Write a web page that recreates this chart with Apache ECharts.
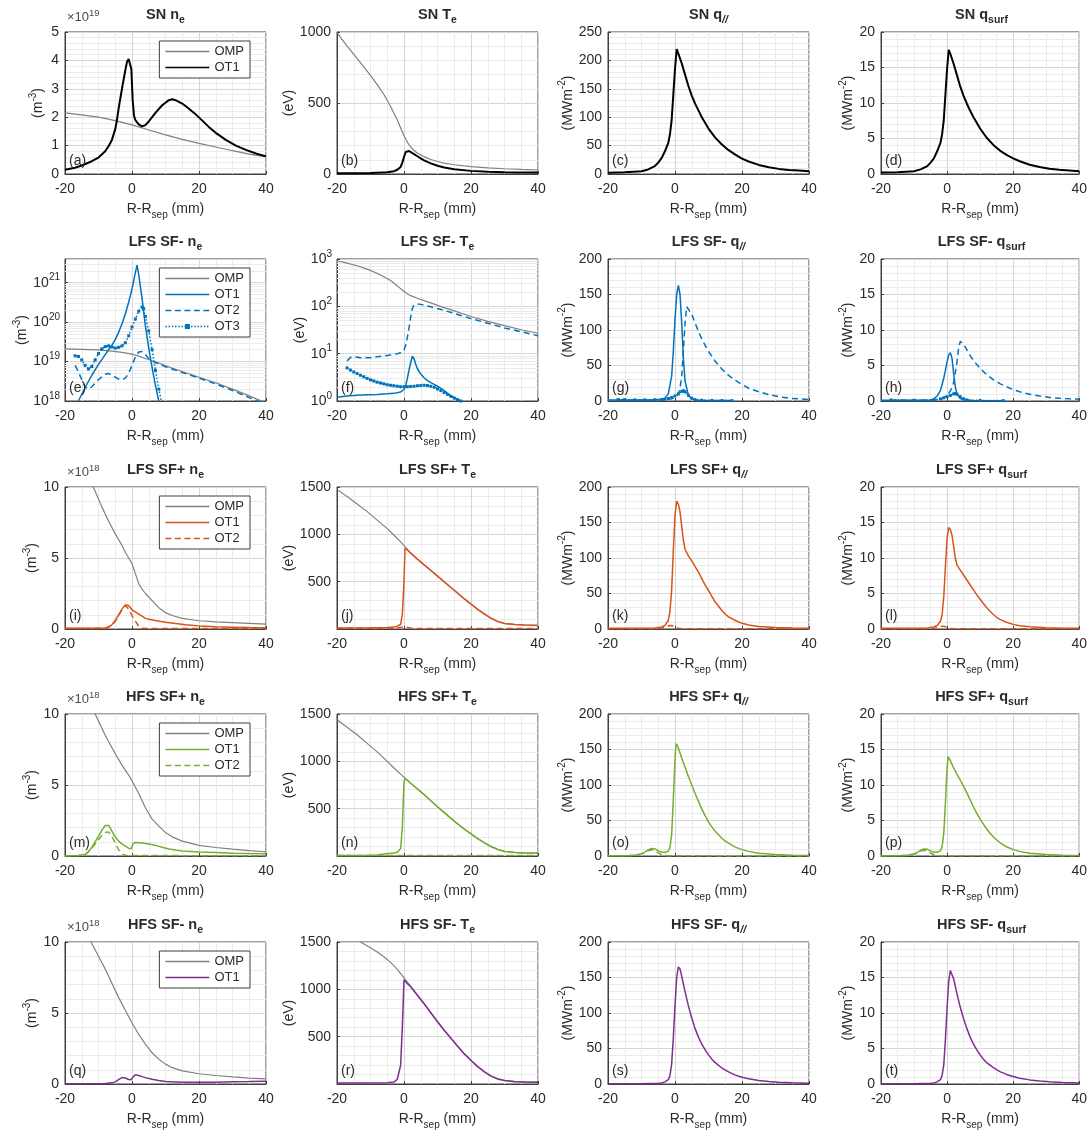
<!DOCTYPE html>
<html>
<head>
<meta charset="utf-8">
<script src="https://cdn.jsdelivr.net/npm/echarts@6/dist/echarts.min.js"></script>
<style>
html,body{margin:0;padding:0;background:#fff}
#chart{width:1090px;height:1135px}
</style>
</head>
<body>
<div id="chart"></div>
<script>
// ---------- profiles: [R-Rsep (mm), value] ----------
// SN
const snNeOMP = [[-20,2.15],[-15,2.08],[-10,2.0],[-5,1.88],[0,1.73],[5,1.55],[10,1.38],[15,1.22],[20,1.08],[25,0.95],[30,0.82],[35,0.7],[40,0.6]];
const snNeOT1 = [[-20,0.15],[-17,0.22],[-15,0.3],[-12,0.45],[-10,0.58],[-8,0.8],[-7,0.98],[-6,1.2],[-5,1.58],[-4.5,1.9],[-4,2.3],[-3,3.0],[-2,3.65],[-1.5,3.95],[-1,4.05],[-0.5,4.05],[-0.2,3.7],[0.2,2.6],[0.6,2.05],[1,1.9],[2,1.75],[3,1.68],[4,1.72],[5,1.85],[7,2.15],[9,2.42],[11,2.6],[12,2.63],[13,2.6],[15,2.48],[17,2.3],[19,2.1],[21,1.88],[23,1.65],[25,1.45],[28,1.2],[31,1.0],[34,0.85],[37,0.72],[40,0.62]];
const snTeOMP = [[-20,995],[-17,900],[-14,815],[-12,755],[-10,695],[-8,630],[-6,560],[-4,475],[-2,380],[0,270],[1,225],[2,190],[3,165],[4,148],[6,122],[8,102],[10,88],[12,77],[15,65],[20,52],[25,43],[30,37],[35,32],[40,28]];
const snTeOT1 = [[-20,5],[-10,7],[-5,12],[-3,20],[-2,30],[-1,50],[-0.5,80],[0,120],[0.5,155],[1,165],[1.5,162],[2,155],[3,140],[4,125],[5,110],[6,96],[8,75],[10,58],[12,46],[15,34],[20,22],[25,16],[30,13],[35,11],[40,10]];
const snQparOT1 = [[-20,2],[-15,3],[-10,5],[-8,8],[-6,14],[-5,20],[-4,28],[-3,40],[-2,55],[-1.5,70],[-1,95],[-0.5,140],[0,185],[0.5,220],[1,212],[2,195],[3,175],[4,155],[5,138],[6,124],[7,112],[8,100],[10,80],[12,64],[14,52],[16,42],[18,34],[20,27],[22,22],[25,16],[28,12],[31,9],[34,7],[37,6],[40,5]];
const snQsurfOT1 = [[-20,0.2],[-15,0.25],[-10,0.4],[-8,0.65],[-6,1.1],[-5,1.6],[-4,2.2],[-3,3.2],[-2,4.4],[-1.5,5.6],[-1,7.6],[-0.5,11.2],[0,14.8],[0.5,17.5],[1,16.9],[2,15.5],[3,13.9],[4,12.3],[5,11.0],[6,9.9],[7,8.9],[8,8.0],[10,6.4],[12,5.1],[14,4.1],[16,3.3],[18,2.7],[20,2.2],[22,1.8],[25,1.3],[28,1.0],[31,0.75],[34,0.6],[37,0.5],[40,0.4]];

// LFS SF-
const lmNeOMP = [[-20,2.1e19],[-15,2.05e19],[-10,1.97e19],[-6,1.85e19],[-3,1.72e19],[0,1.55e19],[2,1.38e19],[4,1.2e19],[6,1.05e19],[8,9.2e18],[10,7.8e18],[15,5.6e18],[20,4e18],[25,2.9e18],[30,2.0e18],[35,1.35e18],[38,1.05e18],[40,0.88e18]];
const lmNeOT1 = [[-20,2e17],[-18,5e17],[-16,1e18],[-14,2.2e18],[-12,4.5e18],[-10,8.5e18],[-8,1.5e19],[-7,2e19],[-6,2.6e19],[-5,3.6e19],[-4,5.5e19],[-3,9e19],[-2,1.6e20],[-1,3.2e20],[0,7e20],[1,1.8e21],[1.5,2.8e21],[2,1.6e21],[3,4e20],[4,8e19],[5,2.2e19],[6,7e18],[7,2.5e18],[8,1e18],[9,4e17]];
const lmNeOT2 = [[-17,8e18],[-16,5.5e18],[-15,3.5e18],[-14,2.3e18],[-13,2e18],[-12,2.3e18],[-10,3.5e18],[-8,4.8e18],[-7,5e18],[-6,4.5e18],[-4,3.6e18],[-3,3.4e18],[-2,3.8e18],[-1,5e18],[0,8e18],[1,1.3e19],[2,1.75e19],[3,1.8e19],[4,1.5e19],[5,1.2e19],[6,1.02e19],[8,8.8e18],[10,7.4e18],[15,5.3e18],[20,3.8e18],[25,2.7e18],[30,1.85e18],[35,1.22e18],[38,0.95e18],[40,0.8e18]];
const lmNeOT3 = [[-17,1.4e19],[-16,1.35e19],[-15,1.1e19],[-14,8e18],[-13,6.5e18],[-12,7.5e18],[-11,1.1e19],[-10,1.6e19],[-9,2.1e19],[-8,2.4e19],[-7,2.5e19],[-6,2.35e19],[-5,2.2e19],[-4,2.3e19],[-3,2.5e19],[-2,3e19],[-1,4.5e19],[0,7.5e19],[1,1.2e20],[2,1.9e20],[3,2.4e20],[3.5,2.2e20],[4,1.4e20],[5,6e19],[6,2e19],[7,6e18],[8,2e18],[9,8e17]];
const lmTeOMP = [[-20,920],[-17,820],[-14,720],[-11,610],[-8,500],[-6,420],[-4,350],[-2,270],[0,205],[1,185],[2,168],[4,148],[6,132],[8,118],[10,105],[12,94],[15,80],[18,68],[20,61],[25,48],[30,39],[35,32],[40,27]];
const lmTeOT1 = [[-20,1.2],[-17,1.28],[-14,1.33],[-11,1.36],[-8,1.38],[-5,1.42],[-3,1.45],[-1,1.55],[0,1.75],[0.5,2.1],[1,3],[1.5,4.5],[2,6.5],[2.5,8.8],[3,7.8],[3.5,6],[4,4.8],[5,3.7],[6,3.1],[7,2.7],[8,2.45],[9,2.25],[10,2.05],[11,1.85],[12,1.65],[13,1.45],[14,1.3],[15,1.18],[16,1.08],[17,1.0],[18,0.92]];
const lmTeOT2 = [[-17,7],[-16,8.3],[-15,8.6],[-13,8.2],[-10,8.2],[-8,8.6],[-6,9],[-4,9.4],[-2,10],[-1,10.5],[0,12],[0.5,15],[1,22],[1.5,35],[2,60],[2.5,90],[3,108],[4,112],[5,110],[6,106],[8,98],[10,90],[12,82],[15,71],[18,61],[20,55],[25,44],[30,35],[35,29],[40,24]];
const lmTeOT3 = [[-17,5],[-16,4.5],[-15,4.1],[-14,3.8],[-13,3.5],[-12,3.25],[-11,3.0],[-10,2.8],[-9,2.65],[-8,2.5],[-7,2.4],[-6,2.3],[-5,2.2],[-4,2.15],[-3,2.1],[-2,2.05],[-1,2.0],[0,2.0],[1,2.0],[2,2.02],[3,2.05],[4,2.1],[5,2.12],[6,2.15],[7,2.12],[8,2.05],[9,1.95],[10,1.8],[11,1.65],[12,1.5],[13,1.38],[14,1.25],[15,1.15],[16,1.07],[17,1.0]];
const lmQparOT1 = [[-20,1.5],[-15,1.5],[-10,1.5],[-6,1.8],[-4,2.5],[-3,4],[-2,10],[-1,35],[-0.5,70],[0,115],[0.5,150],[1,163],[1.5,150],[2,110],[2.5,60],[3,28],[4,8],[5,3],[6,1.5],[8,1],[12,0.8],[17,0.6]];
const lmQparOT2 = [[-17,1],[-10,1],[-4,1.5],[-2,2],[-1,3],[0,5],[1,10],[1.5,18],[2,35],[2.5,70],[3,110],[3.5,133],[4,131],[5,122],[6,110],[7,98],[8,87],[10,70],[12,56],[14,45],[16,36],[18,29],[20,23],[22,18],[25,13],[28,9],[31,6],[34,4],[37,3],[40,2]];
const lmQparOT3 = [[-17,2],[-15,2],[-12,1.5],[-9,1.5],[-6,1.8],[-4,2],[-3,2.5],[-2,3.5],[-1,5],[0,7],[1,10],[2,13.5],[2.5,14.5],[3,13],[4,8],[5,4],[6,2],[8,1],[11,0.8],[14,0.6],[17,0.5]];
const lmQsurfOT1 = [[-20,0.1],[-10,0.1],[-5,0.15],[-4,0.3],[-3,0.7],[-2,1.5],[-1,3.2],[0,5.5],[0.5,6.5],[1,6.8],[1.5,6],[2,3.8],[2.5,2],[3,1],[4,0.35],[5,0.15],[8,0.08],[17,0.05]];
const lmQsurfOT2 = [[-17,0.1],[-5,0.1],[-2,0.2],[-1,0.4],[0,0.8],[1,1.4],[2,2.6],[3,5.5],[3.5,7.5],[4,8.4],[5,8],[6,7.2],[7,6.4],[8,5.7],[10,4.6],[12,3.7],[14,3.0],[16,2.45],[18,2.0],[20,1.6],[22,1.3],[25,0.95],[28,0.7],[31,0.5],[34,0.38],[37,0.3],[40,0.25]];
const lmQsurfOT3 = [[-17,0.15],[-10,0.1],[-4,0.15],[-2,0.3],[-1,0.45],[0,0.6],[1,0.8],[2,1.0],[2.5,1.05],[3,0.95],[4,0.6],[5,0.3],[6,0.15],[10,0.08],[17,0.05]];

// LFS SF+
const lpNeOMP = [[-20,13.5],[-16,12],[-13,10.6],[-12,10.2],[-11,9.7],[-9,8.6],[-7,7.6],[-5,6.7],[-3,5.9],[-2,5.4],[-1,5.0],[0,4.6],[1,3.9],[2,3.2],[3,2.8],[4,2.5],[6,2.0],[8,1.5],[10,1.15],[12,0.95],[15,0.75],[20,0.58],[25,0.5],[30,0.45],[35,0.4],[40,0.35]];
const lpNeOT1 = [[-20,0.05],[-10,0.05],[-8,0.07],[-7,0.12],[-6,0.3],[-5,0.6],[-4,1.0],[-3,1.4],[-2,1.7],[-1.5,1.8],[-1,1.65],[0,1.35],[1,1.2],[2,1.05],[3,0.9],[4,0.75],[5,0.68],[7,0.6],[10,0.48],[13,0.38],[16,0.3],[20,0.22],[25,0.16],[30,0.13],[35,0.1],[40,0.08]];
const lpNeOT2 = [[-20,0.03],[-8,0.05],[-6,0.25],[-5,0.55],[-4,0.95],[-3,1.35],[-2,1.65],[-1.5,1.6],[-1,1.4],[0,0.95],[1,0.55],[2,0.2],[3,0.05],[5,0.03],[40,0.03]];
const lpTeOMP = [[-20,1475],[-17,1400],[-14,1320],[-11,1240],[-8,1150],[-5,1060],[-3,990],[-1,920],[0,880],[2,805],[4,740],[6,680],[8,620],[10,560],[12,500],[14,440],[16,380],[18,320],[20,265],[22,210],[24,160],[26,115],[28,80],[30,60],[33,48],[36,42],[40,38]];
const lpTeOT1 = [[-20,10],[-10,12],[-5,15],[-3,20],[-2,30],[-1,50],[-0.5,150],[0,500],[0.3,850],[1,835],[2,800],[4,738],[6,678],[8,618],[10,558],[12,498],[14,438],[16,378],[18,318],[20,262],[22,207],[24,157],[26,112],[28,78],[30,58],[33,47],[36,41],[40,37]];
const lpTeOT2 = [[-20,8],[-5,8],[-2,10],[0,25],[2,10],[4,5],[10,5],[40,5]];
const lpQparOT1 = [[-20,1],[-10,1],[-6,1.5],[-4,3],[-3,5],[-2,12],[-1.5,25],[-1,55],[-0.5,110],[0,160],[0.5,180],[1,176],[1.5,165],[2,145],[2.5,125],[3,112],[4,103],[5,96],[6,88],[7,80],[8,71],[9,62],[10,54],[11,46],[12,38],[13,32],[14,26],[15,21],[16,17],[18,12],[20,8],[22,5.5],[25,3.5],[30,2],[35,1.3],[40,1]];
const lpQparOT2 = [[-20,0.5],[-6,0.5],[-4,1.5],[-3,3],[-2,4.5],[-1,5],[0,3],[1,1],[2,0.5],[40,0.3]];
const lpQsurfOT1 = [[-20,0.1],[-10,0.1],[-6,0.15],[-4,0.3],[-3,0.5],[-2,1.1],[-1.5,2],[-1,4.5],[-0.5,8.8],[0,12.8],[0.5,14.3],[1,14],[1.5,13.2],[2,11.6],[2.5,10],[3,9],[4,8.3],[5,7.6],[6,6.9],[7,6.2],[8,5.5],[9,4.8],[10,4.2],[11,3.6],[12,3.0],[13,2.5],[14,2.05],[15,1.65],[16,1.35],[18,0.95],[20,0.65],[22,0.45],[25,0.3],[30,0.17],[35,0.12],[40,0.1]];
const lpQsurfOT2 = [[-20,0.05],[-5,0.05],[-3,0.2],[-2,0.35],[-1,0.4],[0,0.25],[1,0.08],[2,0.04],[40,0.03]];

// HFS SF+
const hpNeOMP = [[-20,13.5],[-16,12],[-13,10.8],[-12,10.4],[-11,10.0],[-8,8.5],[-5,7.2],[-3,6.4],[-1,5.7],[0,5.3],[2,4.4],[4,3.4],[6,2.6],[8,2.1],[10,1.65],[12,1.35],[15,1.05],[20,0.75],[25,0.6],[30,0.48],[35,0.38],[40,0.3]];
const hpNeOT1 = [[-20,0.02],[-16,0.03],[-14,0.1],[-13,0.3],[-12,0.6],[-11,1.0],[-10,1.4],[-9,1.8],[-8,2.15],[-7.5,2.25],[-7,2.15],[-6,1.75],[-5,1.35],[-4,1.05],[-3,0.85],[-2,0.7],[-1,0.55],[-0.3,0.5],[0.3,0.85],[1,0.95],[3,0.92],[5,0.85],[7,0.75],[9,0.62],[11,0.5],[13,0.42],[15,0.36],[20,0.28],[25,0.24],[30,0.2],[35,0.17],[40,0.15]];
const hpNeOT2 = [[-20,0.02],[-15,0.03],[-14,0.1],[-13,0.3],[-12,0.55],[-11,0.85],[-10,1.15],[-9,1.45],[-8,1.65],[-7,1.7],[-6,1.4],[-5,0.9],[-4,0.45],[-3,0.15],[-2,0.05],[0,0.03],[40,0.02]];
const hpTeOMP = [[-20,1440],[-17,1360],[-14,1280],[-11,1190],[-8,1100],[-5,1000],[-3,930],[-1,865],[0,830],[2,770],[4,710],[6,650],[8,585],[10,520],[12,460],[14,400],[16,340],[18,285],[20,235],[22,185],[24,140],[26,100],[28,70],[30,50],[33,38],[36,33],[40,30]];
const hpTeOT1 = [[-20,5],[-12,5],[-8,10],[-6,22],[-4,28],[-3,32],[-2,40],[-1,80],[-0.5,300],[0,780],[0.3,820],[1,800],[2,768],[4,708],[6,648],[8,583],[10,518],[12,458],[14,398],[16,338],[18,283],[20,233],[22,183],[24,138],[26,98],[28,68],[30,48],[33,36],[36,31],[40,28]];
const hpTeOT2 = [[-20,4],[-2,4],[-1,6],[0,8],[1,5],[40,4]];
const hpQparOT1 = [[-20,0.3],[-14,0.5],[-12,1],[-10,3],[-9,5.5],[-8,8.5],[-7,10.5],[-6.5,10.8],[-6,10],[-5,7.5],[-4,5.5],[-3,5],[-2,7],[-1.5,12],[-1,30],[-0.5,80],[0,135],[0.3,158],[0.8,155],[1.5,145],[2,138],[3,125],[4,112],[5,100],[6,88],[7,77],[8,66],[9,57],[10,48],[11,41],[12,35],[13,30],[14,25],[15,21],[16,18],[18,12.5],[20,9],[22,6.5],[25,4],[30,2],[35,1.2],[40,0.8]];
const hpQparOT2 = [[-20,0.2],[-14,0.4],[-12,1],[-10,3],[-9,5],[-8,7.5],[-7,8.8],[-6,7.5],[-5,4.5],[-4,2],[-3,0.8],[-2,0.3],[0,0.2],[40,0.1]];
const hpQsurfOT1 = [[-20,0.03],[-14,0.05],[-12,0.1],[-10,0.3],[-9,0.5],[-8,0.8],[-7,0.98],[-6.5,1.0],[-6,0.95],[-5,0.72],[-4,0.55],[-3,0.52],[-2,0.75],[-1.5,1.3],[-1,3.2],[-0.5,7.5],[0,12.3],[0.3,14],[0.8,13.6],[1.5,12.9],[2,12.4],[3,11.5],[4,10.7],[5,9.8],[6,8.9],[7,7.9],[8,6.9],[9,6.0],[10,5.2],[11,4.5],[12,3.8],[13,3.2],[14,2.7],[15,2.25],[16,1.9],[18,1.3],[20,0.9],[22,0.65],[25,0.4],[30,0.2],[35,0.12],[40,0.08]];
const hpQsurfOT2 = [[-20,0.02],[-12,0.08],[-10,0.25],[-9,0.45],[-8,0.7],[-7,0.82],[-6,0.7],[-5,0.42],[-4,0.18],[-3,0.07],[-2,0.03],[40,0.02]];

// HFS SF-
const hmNeOMP = [[-20,14.5],[-16,12.3],[-14,11],[-13,10.4],[-12,9.9],[-10,9.0],[-8,8.1],[-6,7.1],[-4,6.1],[-2,5.2],[0,4.3],[2,3.5],[4,2.8],[6,2.2],[8,1.75],[10,1.4],[12,1.15],[15,0.92],[20,0.72],[25,0.6],[30,0.5],[35,0.42],[40,0.36]];
const hmNeOT1 = [[-20,0.02],[-8,0.03],[-6,0.08],[-5,0.15],[-4,0.3],[-3,0.45],[-2.5,0.47],[-2,0.42],[-1,0.32],[-0.3,0.3],[0.3,0.5],[1,0.65],[1.5,0.66],[2,0.6],[3,0.52],[4,0.45],[6,0.33],[8,0.24],[10,0.18],[15,0.13],[20,0.12],[25,0.13],[30,0.15],[35,0.17],[40,0.2]];
const hmTeOMP = [[-20,1690],[-16,1590],[-13,1500],[-10,1440],[-8,1395],[-6,1345],[-4,1285],[-2,1210],[-1,1165],[0,1120],[2,1030],[4,940],[6,850],[8,755],[10,660],[12,570],[14,485],[16,400],[18,320],[20,250],[22,185],[24,130],[26,85],[28,55],[30,38],[33,27],[36,22],[40,20]];
const hmTeOT1 = [[-20,10],[-10,10],[-5,12],[-3,20],[-2,50],[-1,200],[-0.5,600],[0,1100],[0.5,1080],[1,1060],[2,1028],[4,938],[6,848],[8,753],[10,658],[12,568],[14,483],[16,398],[18,318],[20,248],[22,183],[24,128],[26,83],[28,53],[30,36],[33,25],[36,20],[40,18]];
const hmQparOT1 = [[-20,0.5],[-10,0.5],[-5,1],[-4,1.5],[-3,3],[-2,6],[-1.5,12],[-1,28],[-0.5,65],[0,110],[0.5,150],[1,165],[1.5,162],[2,152],[3,130],[4,110],[5,93],[6,78],[7,66],[8,56],[9,48],[10,41],[11,35],[12,30],[14,22.5],[16,17],[18,12.5],[20,9.5],[22,7.5],[25,5],[28,3.5],[31,2.5],[35,1.8],[40,1.2]];
const hmQsurfOT1 = [[-20,0.05],[-10,0.05],[-5,0.1],[-4,0.15],[-3,0.3],[-2,0.6],[-1.5,1.2],[-1,2.7],[-0.5,6.3],[0,10.7],[0.5,14.5],[1,16],[1.5,15.8],[2,14.8],[3,12.7],[4,10.8],[5,9.2],[6,7.8],[7,6.6],[8,5.6],[9,4.8],[10,4.1],[11,3.5],[12,3.0],[14,2.3],[16,1.75],[18,1.35],[20,1.05],[22,0.82],[25,0.58],[28,0.42],[31,0.3],[35,0.22],[40,0.15]];

// axis ticks
const xTicks = [-20, 0, 20, 40];

// ---------- look ----------
const FONT = '"Liberation Sans", Arial, Helvetica, sans-serif';
const TXT = '#2b2b2b';
const FRAME = '#3f3f3f';
const GRID_MAJOR = '#d6d6d6';
const GRID_MINOR = '#ebebeb';
const GRAY = '#808080', BLACK = '#000000', BLUE = '#0072BD', ORANGE = '#D95319', GREEN = '#77AC30', PURPLE = '#7E2F8E';
const COL_LEFT = [65, 337, 608, 881];
const ROW_TOP = [32, 259, 487, 714, 942];
const PW = 201, PH = 142;

// legend icons (44 x 8 box, line centred)
function dottedIcon() {
  let p = 'path://M0,-3.2M44,4.8';
  for (let x = 0; x < 43; x += 3.2) p += 'M' + x.toFixed(1) + ',0h1.5v1.6h-1.5z';
  p += 'M19.5,-1.7h5v5h-5z';
  return p;
}
const ICON = {
  solid: 'path://M0,-3.2M44,4.8M0,0h44v1.6h-44z',
  dashed: 'path://M0,-3.2M44,4.8M0,0h6v1.6h-6zM9.5,0h6v1.6h-6zM19,0h6v1.6h-6zM28.5,0h6v1.6h-6zM38,0h6v1.6h-6z',
  dotted: dottedIcon()
};
const KIND_ICON = { omp: 'solid', ot1: 'solid', ot2: 'dashed', ot3: 'dotted' };

// panel table
const panels = [
  { tag: 'a', r: 0, c: 0, grp: 'SN', title: ['SN n', 'e'], unit: 'm3', exp: '19', y: { min: 0, max: 5, interval: 1 }, gap: 17, color: BLACK, legend: true,
    lines: [['OMP', 'omp', snNeOMP], ['OT1', 'ot1', snNeOT1]] },
  { tag: 'b', r: 0, c: 1, grp: 'SN', title: ['SN T', 'e'], unit: 'eV', y: { min: 0, max: 1000, interval: 500 }, gap: 36, color: BLACK,
    lines: [['OMP', 'omp', snTeOMP], ['OT1', 'ot1', snTeOT1]] },
  { tag: 'c', r: 0, c: 2, grp: 'SN', title: ['SN q', '//', true], unit: 'MW', y: { min: 0, max: 250, interval: 50 }, gap: 27, color: BLACK,
    lines: [['OT1', 'ot1', snQparOT1]] },
  { tag: 'd', r: 0, c: 3, grp: 'SN', title: ['SN q', 'surf'], unit: 'MW', y: { min: 0, max: 20, interval: 5 }, gap: 23, color: BLACK,
    lines: [['OT1', 'ot1', snQsurfOT1]] },

  { tag: 'e', r: 1, c: 0, grp: 'LFS SF-', title: ['LFS SF- n', 'e'], unit: 'm3', log: true, y: { min: 1e18, max: 4e21 }, gap: 33, color: BLUE, legend: true,
    lines: [['OMP', 'omp', lmNeOMP], ['OT1', 'ot1', lmNeOT1], ['OT2', 'ot2', lmNeOT2], ['OT3', 'ot3', lmNeOT3]] },
  { tag: 'f', r: 1, c: 1, grp: 'LFS SF-', title: ['LFS SF- T', 'e'], unit: 'eV', log: true, y: { min: 1, max: 1000 }, gap: 28, color: BLUE,
    lines: [['OMP', 'omp', lmTeOMP], ['OT1', 'ot1', lmTeOT1], ['OT2', 'ot2', lmTeOT2], ['OT3', 'ot3', lmTeOT3]] },
  { tag: 'g', r: 1, c: 2, grp: 'LFS SF-', title: ['LFS SF- q', '//', true], unit: 'MW', y: { min: 0, max: 200, interval: 50 }, gap: 27, color: BLUE,
    lines: [['OT1', 'ot1', lmQparOT1], ['OT2', 'ot2', lmQparOT2], ['OT3', 'ot3', lmQparOT3]] },
  { tag: 'h', r: 1, c: 3, grp: 'LFS SF-', title: ['LFS SF- q', 'surf'], unit: 'MW', y: { min: 0, max: 20, interval: 5 }, gap: 23, color: BLUE,
    lines: [['OT1', 'ot1', lmQsurfOT1], ['OT2', 'ot2', lmQsurfOT2], ['OT3', 'ot3', lmQsurfOT3]] },

  { tag: 'i', r: 2, c: 0, grp: 'LFS SF+', title: ['LFS SF+ n', 'e'], unit: 'm3', exp: '18', y: { min: 0, max: 10, interval: 5 }, gap: 23, color: ORANGE, legend: true,
    lines: [['OMP', 'omp', lpNeOMP], ['OT1', 'ot1', lpNeOT1], ['OT2', 'ot2', lpNeOT2]] },
  { tag: 'j', r: 2, c: 1, grp: 'LFS SF+', title: ['LFS SF+ T', 'e'], unit: 'eV', y: { min: 0, max: 1500, interval: 500 }, hideZero: true, gap: 36, color: ORANGE,
    lines: [['OMP', 'omp', lpTeOMP], ['OT2', 'ot2', lpTeOT2], ['OT1', 'ot1', lpTeOT1]] },
  { tag: 'k', r: 2, c: 2, grp: 'LFS SF+', title: ['LFS SF+ q', '//', true], unit: 'MW', y: { min: 0, max: 200, interval: 50 }, gap: 27, color: ORANGE,
    lines: [['OT2', 'ot2', lpQparOT2], ['OT1', 'ot1', lpQparOT1]] },
  { tag: 'l', r: 2, c: 3, grp: 'LFS SF+', title: ['LFS SF+ q', 'surf'], unit: 'MW', y: { min: 0, max: 20, interval: 5 }, gap: 23, color: ORANGE,
    lines: [['OT2', 'ot2', lpQsurfOT2], ['OT1', 'ot1', lpQsurfOT1]] },

  { tag: 'm', r: 3, c: 0, grp: 'HFS SF+', title: ['HFS SF+ n', 'e'], unit: 'm3', exp: '18', y: { min: 0, max: 10, interval: 5 }, gap: 23, color: GREEN, legend: true,
    lines: [['OMP', 'omp', hpNeOMP], ['OT1', 'ot1', hpNeOT1], ['OT2', 'ot2', hpNeOT2]] },
  { tag: 'n', r: 3, c: 1, grp: 'HFS SF+', title: ['HFS SF+ T', 'e'], unit: 'eV', y: { min: 0, max: 1500, interval: 500 }, hideZero: true, gap: 36, color: GREEN,
    lines: [['OMP', 'omp', hpTeOMP], ['OT2', 'ot2', hpTeOT2], ['OT1', 'ot1', hpTeOT1]] },
  { tag: 'o', r: 3, c: 2, grp: 'HFS SF+', title: ['HFS SF+ q', '//', true], unit: 'MW', y: { min: 0, max: 200, interval: 50 }, gap: 27, color: GREEN,
    lines: [['OT2', 'ot2', hpQparOT2], ['OT1', 'ot1', hpQparOT1]] },
  { tag: 'p', r: 3, c: 3, grp: 'HFS SF+', title: ['HFS SF+ q', 'surf'], unit: 'MW', y: { min: 0, max: 20, interval: 5 }, gap: 23, color: GREEN,
    lines: [['OT2', 'ot2', hpQsurfOT2], ['OT1', 'ot1', hpQsurfOT1]] },

  { tag: 'q', r: 4, c: 0, grp: 'HFS SF-', title: ['HFS SF- n', 'e'], unit: 'm3', exp: '18', y: { min: 0, max: 10, interval: 5 }, gap: 23, color: PURPLE, legend: true,
    lines: [['OMP', 'omp', hmNeOMP], ['OT1', 'ot1', hmNeOT1]] },
  { tag: 'r', r: 4, c: 1, grp: 'HFS SF-', title: ['HFS SF- T', 'e'], unit: 'eV', y: { min: 0, max: 1500, interval: 500 }, hideZero: true, gap: 36, color: PURPLE,
    lines: [['OMP', 'omp', hmTeOMP], ['OT1', 'ot1', hmTeOT1]] },
  { tag: 's', r: 4, c: 2, grp: 'HFS SF-', title: ['HFS SF- q', '//', true], unit: 'MW', y: { min: 0, max: 200, interval: 50 }, gap: 27, color: PURPLE,
    lines: [['OT1', 'ot1', hmQparOT1]] },
  { tag: 't', r: 4, c: 3, grp: 'HFS SF-', title: ['HFS SF- q', 'surf'], unit: 'MW', y: { min: 0, max: 20, interval: 5 }, gap: 23, color: PURPLE,
    lines: [['OT1', 'ot1', hmQsurfOT1]] }
];

const UNIT_TEXT = {
  m3: '{t|(m}{p|-3}{t|)}',
  eV: '{t|(eV)}',
  MW: '{t|(MWm}{p|-2}{t|)}'
};
const axisNameRich = {
  t: { fontFamily: FONT, fontSize: 14, color: TXT },
  s: { fontFamily: FONT, fontSize: 10, color: TXT, padding: [11, 0, 0, 0] },
  p: { fontFamily: FONT, fontSize: 10, color: TXT, padding: [0, 0, 10, 0] }
};
const logLabelRich = {
  b: { fontFamily: FONT, fontSize: 14, color: TXT },
  p: { fontFamily: FONT, fontSize: 10, color: TXT, padding: [0, 0, 10, 0] }
};
const titleRich = {
  m: { fontFamily: FONT, fontSize: 14.5, fontWeight: 'bold', color: TXT },
  s: { fontFamily: FONT, fontSize: 10.5, fontWeight: 'bold', color: TXT, padding: [11, 0, 0, 0] },
  si: { fontFamily: FONT, fontSize: 10.5, fontWeight: 'bold', fontStyle: 'italic', color: TXT, padding: [11, 0, 0, 0] }
};

function seriesStyle(kind, color) {
  if (kind === 'omp') return { color: GRAY, lineStyle: { color: GRAY, width: 1.2 }, symbol: 'none' };
  if (kind === 'ot1') return { color, lineStyle: { color, width: color === BLACK ? 2 : 1.5 }, symbol: 'none' };
  if (kind === 'ot2') return { color, lineStyle: { color, width: 1.5, type: [6, 4] }, symbol: 'none' };
  return {
    color, lineStyle: { color, width: 1.5, type: [1.5, 2] },
    symbol: 'rect', symbolSize: 3, showSymbol: true, showAllSymbol: true,
    itemStyle: { color, borderWidth: 0 }
  };
}

const grid = [], xAxis = [], yAxis = [], series = [], title = [], legend = [];

panels.forEach((pn, i) => {
  const left = COL_LEFT[pn.c], top = ROW_TOP[pn.r];
  grid.push({ left, top, width: PW, height: PH, show: true, borderColor: FRAME, borderWidth: 1, backgroundColor: '#fff' });

  xAxis.push({
    gridIndex: i, type: 'value', min: xTicks[0], max: xTicks[xTicks.length - 1], interval: xTicks[1] - xTicks[0],
    axisLine: { show: true, onZero: false, lineStyle: { color: FRAME, width: 1 } },
    axisTick: { show: true, inside: true, length: 3, lineStyle: { color: FRAME } },
    minorTick: { show: false, splitNumber: 4 },
    axisLabel: { fontFamily: FONT, fontSize: 14, color: TXT, margin: 8 },
    splitLine: { show: true, lineStyle: { color: GRID_MAJOR, width: 1 } },
    minorSplitLine: { show: true, lineStyle: { color: GRID_MINOR, width: 1 } },
    name: '{t|R-R}{s|sep}{t| (mm)}', nameLocation: 'middle', nameGap: 25,
    nameTextStyle: { rich: axisNameRich }
  });

  const y = {
    gridIndex: i,
    axisLine: { show: true, onZero: false, lineStyle: { color: FRAME, width: 1 } },
    axisTick: { show: true, inside: true, length: 3, lineStyle: { color: FRAME } },
    splitLine: { show: true, lineStyle: { color: GRID_MAJOR, width: 1 } },
    name: UNIT_TEXT[pn.unit], nameLocation: 'middle', nameGap: pn.gap,
    nameTextStyle: { rich: axisNameRich }
  };
  if (pn.log) {
    Object.assign(y, {
      type: 'log', logBase: 10, min: pn.y.min, max: pn.y.max,
      axisLabel: {
        fontFamily: FONT, color: TXT, margin: 5, showMaxLabel: Math.abs(Math.log10(pn.y.max) % 1) < 1e-9,
        formatter: v => '{b|10}{p|' + Math.round(Math.log10(v)) + '}', rich: logLabelRich
      }
    });
  } else {
    Object.assign(y, {
      type: 'value', min: pn.y.min, max: pn.y.max, interval: pn.y.interval,
      minorTick: { show: false, splitNumber: 5 },
      minorSplitLine: { show: true, lineStyle: { color: GRID_MINOR, width: 1 } },
      axisLabel: {
        fontFamily: FONT, fontSize: 14, color: TXT, margin: 6,
        formatter: v => (pn.hideZero && v === 0) ? '' : String(v)
      }
    });
  }
  yAxis.push(y);

  // minor decade grid for log panels
  if (pn.log) {
    const lo = Math.round(Math.log10(pn.y.min)), hi = Math.ceil(Math.log10(pn.y.max));
    const minor = [];
    for (let d = lo; d < hi; d++) {
      for (let m = 2; m <= 9; m++) {
        const v = m * Math.pow(10, d);
        if (v < pn.y.max) minor.push({ yAxis: v });
      }
    }
    series.push({
      type: 'line', xAxisIndex: i, yAxisIndex: i, data: [], z: 1, silent: true,
      markLine: { silent: true, symbol: ['none', 'none'], label: { show: false }, z: 1,
        lineStyle: { color: GRID_MINOR, type: 'solid', width: 1 }, emphasis: { disabled: true }, data: minor }
    });
  }

  pn.lines.forEach(([name, kind, data]) => {
    series.push(Object.assign({
      type: 'line', name: pn.grp + '|' + name, xAxisIndex: i, yAxisIndex: i,
      data, clip: true, silent: true, z: kind === 'omp' ? 2 : 3
    }, seriesStyle(kind, pn.color)));
  });

  // panel title
  const [main, sub, italic] = pn.title;
  title.push({
    text: '{m|' + main + '}{' + (italic ? 'si' : 's') + '|' + sub + '}',
    left: left + PW / 2, top: top - 28, textAlign: 'center', padding: 0,
    textStyle: { rich: titleRich }
  });
  // panel tag
  title.push({
    text: '(' + pn.tag + ')', left: left + 4, top: top + PH - 20, padding: 0,
    textStyle: { fontFamily: FONT, fontSize: 14, fontWeight: 'normal', color: TXT }
  });
  // axis multiplier
  if (pn.exp) {
    title.push({
      text: '{t|\u00d710}{p|' + pn.exp + '}', left: left + 2, top: top - 24, padding: 0,
      textStyle: { fontWeight: 'normal', rich: {
        t: { fontFamily: FONT, fontSize: 13, fontWeight: 'normal', color: '#4a4a4a' },
        p: { fontFamily: FONT, fontSize: 9.5, fontWeight: 'normal', color: '#4a4a4a', padding: [0, 0, 9, 0] }
      } }
    });
  }

  if (pn.legend) {
    legend.push({
      z: 20, zlevel: 0,
      orient: 'vertical', align: 'left',
      right: 1090 - (left + PW - 16), top: top + 9,
      itemWidth: 44, itemHeight: 8, itemGap: 3,
      padding: [4, 6, 4, 6], borderColor: FRAME, borderWidth: 1, backgroundColor: '#ffffff',
      selectedMode: false,
      itemStyle: { borderWidth: 0 },
      textStyle: { fontFamily: FONT, fontSize: 13, color: TXT },
      formatter: n => n.split('|')[1],
      data: pn.lines.slice().sort((a, b) => a[0].localeCompare(b[0]))
        .map(([name, kind]) => ({ name: pn.grp + '|' + name, icon: ICON[KIND_ICON[kind]] }))
    });
  }
});

const chart = echarts.init(document.getElementById('chart'), null, { renderer: 'canvas', width: 1090, height: 1135 });
chart.setOption({
  animation: false,
  backgroundColor: '#ffffff',
  title, legend, grid, xAxis, yAxis, series
});
</script>
</body>
</html>
